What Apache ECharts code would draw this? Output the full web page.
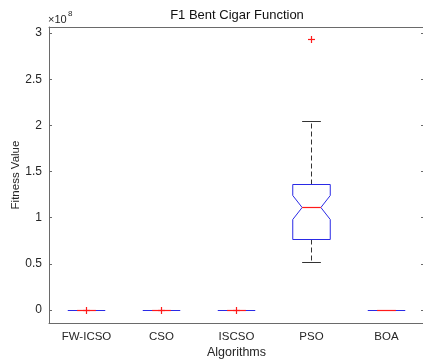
<!DOCTYPE html>
<html>
<head>
<meta charset="utf-8">
<script src="https://cdn.jsdelivr.net/npm/echarts@6/dist/echarts.min.js"></script>
<style>html,body{margin:0;padding:0;background:#fff}#c{width:423px;height:359px}</style>
</head>
<body>
<div id="c"></div>
<script>
// Categories (algorithms)
var categories = ['FW-ICSO', 'CSO', 'ISCSO', 'PSO', 'BOA'];
// Box statistics per algorithm (fitness values)
var whiskerLow  = [0, 0, 0, 0.52e8, 0];
var q1          = [0, 0, 0, 0.762e8, 0];
var median      = [0, 0, 0, 1.113e8, 0];
var q3          = [0, 0, 0, 1.357e8, 0];
var whiskerHigh = [0, 0, 0, 2.04e8, 0];
var notchLow    = [0, 0, 0, 0.982e8, 0];
var notchHigh   = [0, 0, 0, 1.246e8, 0];
// Outliers: [category index, value]
var outliers = [[0, 0], [1, 0], [2, 0], [3, 2.93e8]];
// Y tick values
var yTicks = [0, 0.5e8, 1e8, 1.5e8, 2e8, 2.5e8, 3e8];

var boxData = categories.map(function (c, i) {
  return [i, whiskerLow[i], q1[i], median[i], q3[i], whiskerHigh[i], notchLow[i], notchHigh[i]];
});

var BLUE = '#2a2ae6', RED = '#ff1a1a', WH = '#333333', AX = '#6a6a6a', TXT = '#262626';
var FONT = 'Liberation Sans, Arial, sans-serif';

function px(v) { return Math.round(v - 0.5) + 0.5; }

function renderBox(params, api) {
  var x = api.value(0);
  var bw = api.size([1, 0])[0];
  var half = bw * 0.25, nh = bw * 0.125, ch = bw * 0.125;
  var cx = px(api.coord([x, 0])[0]);
  function y(v) { return px(api.coord([x, v])[1]); }
  var yMin = y(api.value(1)), yQ1 = y(api.value(2)), yMed = y(api.value(3)),
      yQ3 = y(api.value(4)), yMax = y(api.value(5)), yNlo = y(api.value(6)), yNhi = y(api.value(7));
  var children = [];
  if (yMax !== yQ3) {
    children.push({type: 'line', shape: {x1: cx, y1: yQ3, x2: cx, y2: yMax}, style: {stroke: WH, lineWidth: 1, lineDash: [5, 3]}});
    children.push({type: 'line', shape: {x1: cx - ch, y1: yMax, x2: cx + ch, y2: yMax}, style: {stroke: WH, lineWidth: 1}});
  }
  if (yMin !== yQ1) {
    children.push({type: 'line', shape: {x1: cx, y1: yQ1, x2: cx, y2: yMin}, style: {stroke: WH, lineWidth: 1, lineDash: [5, 3]}});
    children.push({type: 'line', shape: {x1: cx - ch, y1: yMin, x2: cx + ch, y2: yMin}, style: {stroke: WH, lineWidth: 1}});
  }
  if (yQ1 === yQ3) {
    children.push({type: 'line', shape: {x1: cx - half, y1: yQ1, x2: cx + half, y2: yQ1}, style: {stroke: BLUE, lineWidth: 1.2}});
  } else {
    children.push({type: 'polygon', shape: {points: [
      [cx - half, yQ3], [cx + half, yQ3], [cx + half, yNhi], [cx + nh, yMed], [cx + half, yNlo],
      [cx + half, yQ1], [cx - half, yQ1], [cx - half, yNlo], [cx - nh, yMed], [cx - half, yNhi]
    ]}, style: {stroke: BLUE, fill: null, lineWidth: 1}});
  }
  children.push({type: 'line', shape: {x1: cx - nh, y1: yMed, x2: cx + nh, y2: yMed}, style: {stroke: RED, lineWidth: 1.2, lineDash: null}});
  return {type: 'group', children: children};
}

function renderPlus(params, api) {
  var p = api.coord([api.value(0), api.value(1)]);
  var x = px(p[0]), y = px(p[1]);
  var s = 3.5;
  return {type: 'group', children: [
    {type: 'line', shape: {x1: x - s, y1: y, x2: x + s, y2: y}, style: {stroke: RED, lineWidth: 1.2}},
    {type: 'line', shape: {x1: x, y1: y - s, x2: x, y2: y + s}, style: {stroke: RED, lineWidth: 1.2}}
  ]};
}

var chart = echarts.init(document.getElementById('c'), null, {renderer: 'canvas'});
var yMin = -0.14e8, yMax = 3.066e8;
chart.setOption({
  animation: false,
  backgroundColor: '#fff',
  grid: {left: 49, top: 27, width: 375, height: 296, outerBoundsMode: 'none', containLabel: false},
  graphic: [
    {type: 'text', x: 237, y: 9, style: {text: 'F1 Bent Cigar Function', fontSize: 13, fontFamily: FONT, fill: '#111', textAlign: 'center'}},
    {type: 'text', x: 48, y: 14, style: {text: '×10', fontSize: 11, fontFamily: FONT, fill: TXT}},
    {type: 'text', x: 68, y: 10, style: {text: '8', fontSize: 8, fontFamily: FONT, fill: TXT}}
  ],
  xAxis: [{
    type: 'category', data: categories, position: 'bottom',
    name: 'Algorithms', nameLocation: 'middle', nameGap: 23, nameMoveOverlap: false,
    nameTextStyle: {fontSize: 12.5, fontFamily: FONT, color: TXT},
    axisLine: {onZero: false, lineStyle: {color: AX, width: 1}},
    axisTick: {inside: true, alignWithLabel: true, length: 3, lineStyle: {color: AX}},
    axisLabel: {fontSize: 11.5, fontFamily: FONT, color: TXT, margin: 8},
    splitLine: {show: false}
  }, {
    type: 'category', data: categories, position: 'top',
    axisLine: {onZero: false, lineStyle: {color: AX, width: 1}},
    axisTick: {inside: true, alignWithLabel: true, length: 3, lineStyle: {color: AX}},
    axisLabel: {show: false}, splitLine: {show: false}
  }],
  yAxis: [{
    type: 'value', min: yMin, max: yMax, position: 'left',
    name: 'Fitness Value', nameLocation: 'middle', nameGap: 27, nameMoveOverlap: false,
    nameTextStyle: {fontSize: 11.5, fontFamily: FONT, color: TXT},
    axisLine: {show: true, onZero: false, lineStyle: {color: AX, width: 1}},
    axisTick: {show: true, inside: true, length: 3, customValues: yTicks, lineStyle: {color: AX}},
    axisLabel: {fontSize: 12, fontFamily: FONT, color: TXT, margin: 7, customValues: yTicks,
      formatter: function (v) { return String(Math.round(v / 1e8 * 10) / 10); }},
    splitLine: {show: false}
  }, {
    type: 'value', min: yMin, max: yMax, position: 'right',
    axisLine: {show: true, onZero: false, lineStyle: {color: AX, width: 1}},
    axisTick: {show: true, inside: true, length: 3, customValues: yTicks, lineStyle: {color: AX}},
    axisLabel: {show: false}, splitLine: {show: false}
  }],
  series: [{
    type: 'custom', xAxisIndex: 0, yAxisIndex: 0, renderItem: renderBox, data: boxData,
    encode: {x: 0, y: [1, 2, 3, 4, 5]}, clip: false, silent: true
  }, {
    type: 'custom', xAxisIndex: 0, yAxisIndex: 0, renderItem: renderPlus, data: outliers,
    encode: {x: 0, y: 1}, clip: false, silent: true
  }]
});
</script>
</body>
</html>
